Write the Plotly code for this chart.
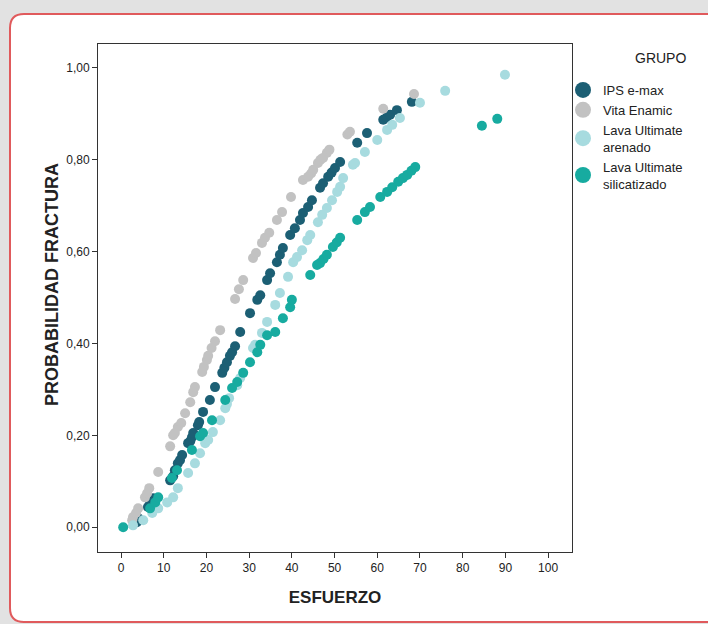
import plotly.graph_objects as go

# ---- data ----
ips_x = [3.7, 4.0, 6.3, 6.8, 7.5, 11.5, 12.2, 12.6, 13.3, 13.8, 14.3, 15.7, 16.2, 16.6, 16.9, 18.0, 18.3,
         19.2, 20.8, 22.0, 23.7, 24.2, 24.8, 25.5, 26.0, 26.7, 27.9, 30.2, 31.9, 32.6, 34.2, 34.9, 36.5, 37.2,
         37.9, 39.6, 40.7, 41.9, 42.6, 43.8, 44.7, 46.6, 47.3, 48.5, 49.3, 50.1, 51.3, 55.3, 57.6, 61.4, 62.2,
         63.0, 64.6, 68.1]
ips_y = [0.011, 0.020, 0.044, 0.052, 0.063, 0.102, 0.111, 0.124, 0.139, 0.146, 0.157, 0.183, 0.187, 0.196,
         0.205, 0.222, 0.229, 0.251, 0.277, 0.305, 0.336, 0.347, 0.359, 0.373, 0.381, 0.394, 0.425, 0.466,
         0.495, 0.505, 0.538, 0.553, 0.577, 0.593, 0.608, 0.636, 0.651, 0.669, 0.684, 0.697, 0.712, 0.739,
         0.749, 0.763, 0.772, 0.782, 0.795, 0.837, 0.858, 0.887, 0.892, 0.898, 0.908, 0.926]

vita_x = [2.6, 2.8, 3.5, 4.0, 5.6, 6.1, 6.6, 8.7, 11.5, 12.2, 12.6, 13.3, 14.1, 15.0, 16.2, 16.9, 17.3,
          19.0, 19.4, 20.1, 20.4, 21.2, 22.0, 23.2, 26.7, 27.6, 28.6, 30.9, 31.6, 33.0, 33.7, 34.7, 36.5,
          37.7, 39.8, 42.6, 43.8, 44.5, 45.0, 46.1, 46.7, 47.3, 48.2, 48.8, 53.0, 53.6, 61.4, 68.6]
vita_y = [0.015, 0.022, 0.031, 0.041, 0.065, 0.074, 0.085, 0.120, 0.176, 0.200, 0.205, 0.218, 0.227, 0.248,
          0.272, 0.294, 0.305, 0.338, 0.349, 0.364, 0.373, 0.390, 0.405, 0.429, 0.497, 0.518, 0.538, 0.586,
          0.597, 0.619, 0.630, 0.641, 0.669, 0.686, 0.719, 0.756, 0.763, 0.770, 0.778, 0.793, 0.800, 0.804,
          0.815, 0.822, 0.855, 0.861, 0.911, 0.943]

aren_x = [2.8, 5.2, 7.3, 8.7, 10.8, 12.2, 13.3, 15.7, 17.3, 18.5, 19.7, 20.4, 21.5, 23.2, 24.4, 24.8, 25.3,
          27.2, 27.9, 30.9, 31.4, 33.0, 34.2, 36.1, 37.2, 39.1, 40.3, 41.2, 42.4, 43.6, 44.3, 46.1, 47.1,
          48.2, 49.4, 50.6, 51.3, 52.0, 54.3, 54.8, 57.1, 60.0, 62.3, 63.5, 65.3, 70.0, 75.9, 89.9]
aren_y = [0.004, 0.015, 0.031, 0.041, 0.054, 0.065, 0.085, 0.118, 0.139, 0.161, 0.183, 0.190, 0.207, 0.233,
          0.259, 0.268, 0.281, 0.309, 0.325, 0.390, 0.397, 0.423, 0.447, 0.484, 0.510, 0.545, 0.577, 0.588,
          0.603, 0.625, 0.636, 0.664, 0.680, 0.695, 0.712, 0.730, 0.741, 0.760, 0.789, 0.793, 0.817, 0.843,
          0.865, 0.876, 0.891, 0.924, 0.950, 0.985]

sil_x = [0.5, 6.8, 8.0, 8.7, 11.9, 13.1, 16.6, 18.5, 19.2, 21.3, 24.4, 26.0, 27.2, 28.6, 30.2, 31.9, 32.6,
         34.2, 36.1, 37.9, 39.6, 40.0, 44.3, 45.9, 46.6, 47.4, 48.2, 49.6, 50.5, 51.3, 55.3, 57.1, 58.3,
         60.7, 62.3, 63.5, 64.9, 66.0, 67.0, 68.0, 68.9, 84.5, 88.1]
sil_y = [0.000, 0.041, 0.054, 0.065, 0.107, 0.124, 0.168, 0.198, 0.205, 0.233, 0.277, 0.303, 0.316, 0.336,
         0.359, 0.381, 0.397, 0.418, 0.425, 0.455, 0.479, 0.495, 0.549, 0.571, 0.575, 0.584, 0.593, 0.610,
         0.620, 0.630, 0.669, 0.686, 0.697, 0.719, 0.730, 0.740, 0.752, 0.760, 0.767, 0.776, 0.784, 0.874,
         0.889]

groups = ["IPS e-max", "Vita Enamic", "Lava Ultimate<br>arenado", "Lava Ultimate<br>silicatizado"]
colors = ["#1c5f74", "#c2c2c2", "#a7dbdf", "#17aba0"]
xs = [ips_x, vita_x, aren_x, sil_x]
ys = [ips_y, vita_y, aren_y, sil_y]

x_ticks = [0, 10, 20, 30, 40, 50, 60, 70, 80, 90, 100]
y_ticks = [0.0, 0.2, 0.4, 0.6, 0.8, 1.0]
y_ticktext = ["0,00", "0,20", "0,40", "0,60", "0,80", "1,00"]

FONT = "Liberation Sans, Arial, sans-serif"

fig = go.Figure()
for name, c, x, y in zip(groups, colors, xs, ys):
    fig.add_trace(go.Scatter(x=x, y=y, mode="markers", name=name, showlegend=False,
                             marker=dict(color=c, size=10, line=dict(width=0))))
# legend entries with large symbols
for name, c in zip(groups, colors):
    fig.add_trace(go.Scatter(x=[None], y=[None], mode="markers", name=name,
                             marker=dict(color=c, size=16, line=dict(width=0))))

# page frame: white card with red rounded border
L, T, R, B = 98, 44, 572, 552
pw, ph = R - L, B - T
def px(v):
    return (v - L) / pw
def py(v):
    return 1 - (v - T) / ph
xl, xr, yt, yb = px(10), px(730), py(14), py(622)
rx, ry = 14 / pw, 14 / ph
path = (f"M {xl},{yt - ry} Q {xl},{yt} {xl + rx},{yt} L {xr},{yt} L {xr},{yb} "
        f"L {xl + rx},{yb} Q {xl},{yb} {xl},{yb + ry} Z")
fig.add_shape(type="path", path=path, xref="paper", yref="paper", layer="below",
              fillcolor="white", line=dict(color="#e05a5c", width=2))

fig.add_annotation(text="GRUPO", xref="paper", yref="paper", x=px(688), y=py(58),
                   xanchor="right", yanchor="middle", showarrow=False,
                   font=dict(size=14, color="#222", family=FONT))
fig.add_annotation(text="<b>PROBABILIDAD FRACTURA</b>", xref="paper", yref="paper",
                   x=px(52), y=py(285), xanchor="center", yanchor="middle", textangle=-90,
                   showarrow=False, font=dict(size=18, color="#222", family=FONT))

fig.update_layout(
    width=708, height=624,
    margin=dict(l=L, r=708 - R, t=T, b=624 - B),
    paper_bgcolor="#e2e2e2",
    plot_bgcolor="rgba(0,0,0,0)",
    font=dict(family=FONT, size=12, color="#222"),
    legend=dict(x=px(563), y=py(75), xanchor="left", yanchor="top", xref="paper", yref="paper",
                font=dict(size=13, color="#222"), bgcolor="rgba(0,0,0,0)",
                tracegroupgap=0, itemwidth=30),
    xaxis=dict(range=[-5.4, 105.6], tickvals=x_ticks, ticks="outside", ticklen=5,
               tickcolor="#333", showgrid=False, zeroline=False, showline=True, mirror=True,
               linecolor="#333", linewidth=1, tickfont=dict(size=12, color="#222"),
               title=dict(text="<b>ESFUERZO</b>", font=dict(size=17, color="#222"), standoff=16)),
    yaxis=dict(range=[-0.054, 1.052], tickvals=y_ticks, ticktext=y_ticktext, ticks="outside",
               ticklen=5, tickcolor="#333", showgrid=False, zeroline=False, showline=True,
               mirror=True, linecolor="#333", linewidth=1, tickfont=dict(size=12, color="#222")),
)

fig.write_html("out.html")
